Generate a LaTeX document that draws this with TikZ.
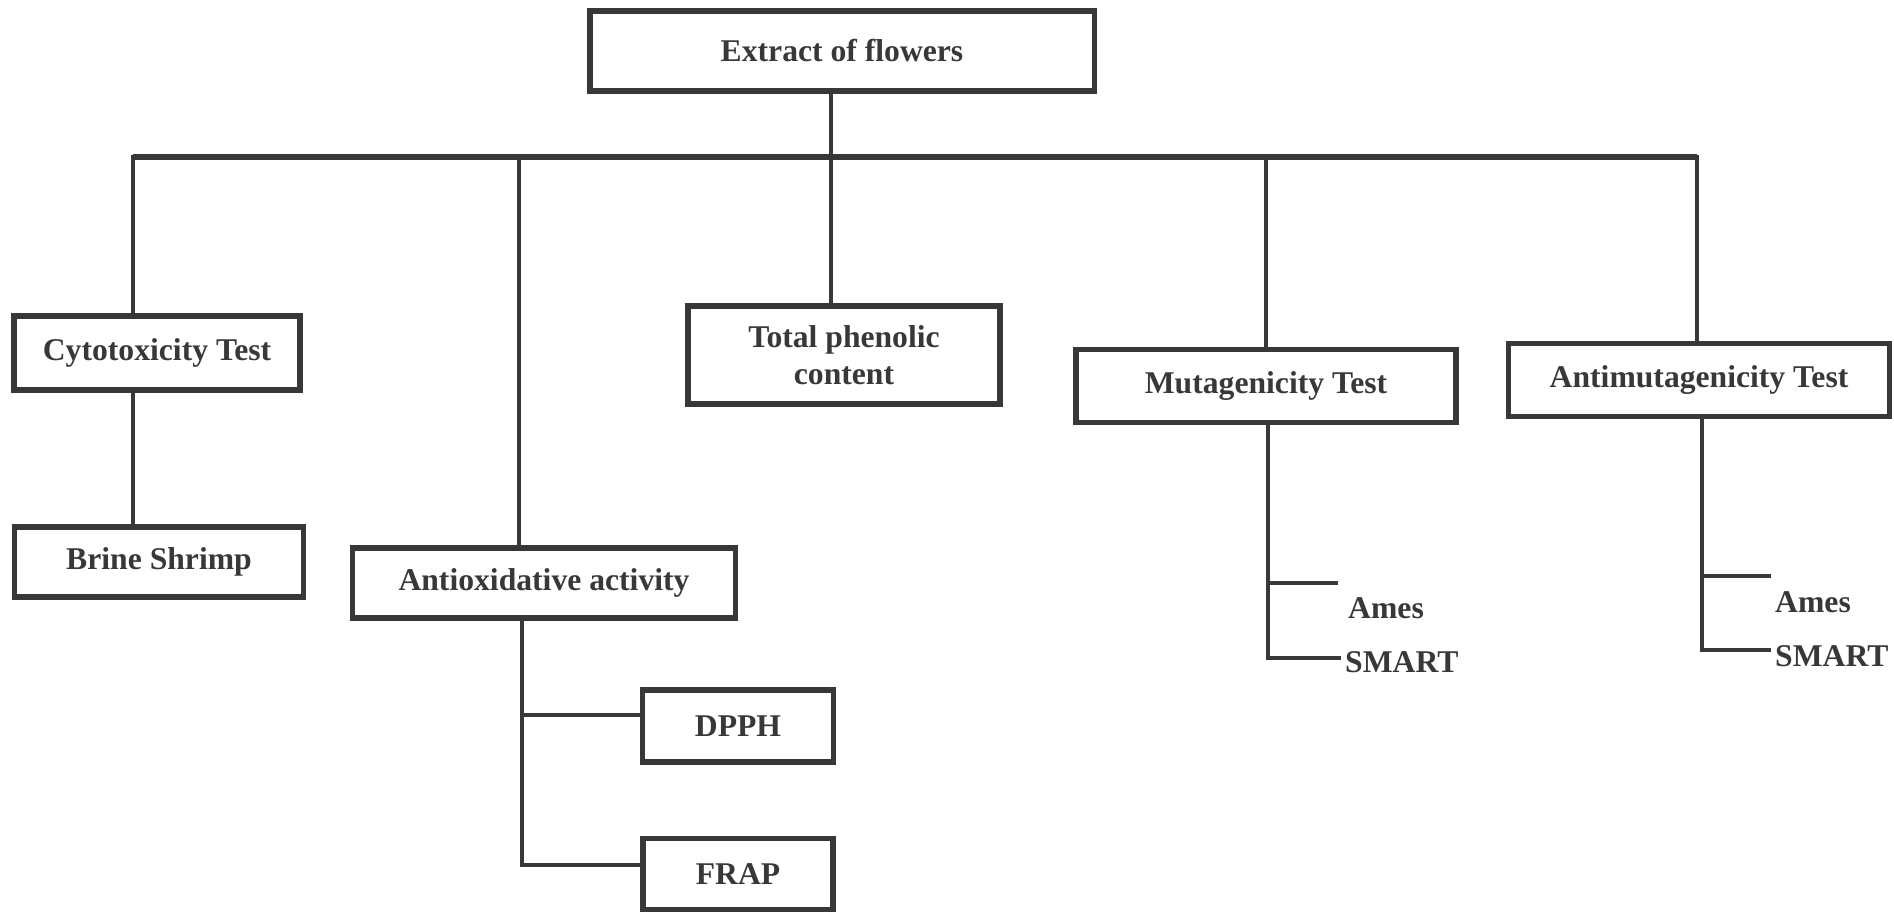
\documentclass[tikz,border=0pt]{standalone}
\usepackage{fontspec}
\setmainfont{Liberation Serif}
\usetikzlibrary{positioning}
\definecolor{inkgray}{HTML}{383838}
\begin{document}
\begin{tikzpicture}[
		x=0.01cm,y=-0.01cm,
		line join=miter,
		every node/.style={font=\fontsize{9}{10.6}\selectfont\bfseries,text=inkgray},
		box/.style={draw=inkgray,line width=1.5pt,align=center,inner sep=0pt},
		leaf/.style={inner sep=1pt,anchor=west},
		link/.style={draw=inkgray,line width=1.1pt}
		]
		\useasboundingbox (0,0) rectangle (1894,916);
		% boxes
		\node[box,minimum width=5.04cm,minimum height=0.80cm] (extract) at (842,51) {Extract of flowers};
		\node[box,minimum width=2.86cm,minimum height=0.74cm] (cyto) at (157,353) {Cytotoxicity Test};
		\node[box,minimum width=2.89cm,minimum height=0.70cm] (brine) at (159,562) {Brine Shrimp};
		\node[box,minimum width=3.12cm,minimum height=0.98cm] (phenolic) at (844,355) {Total phenolic\\content};
		\node[box,minimum width=3.80cm,minimum height=0.73cm] (mut) at (1266,386) {Mutagenicity Test};
		\node[box,minimum width=3.81cm,minimum height=0.73cm] (antimut) at (1699,380) {Antimutagenicity Test};
		\node[box,minimum width=3.83cm,minimum height=0.70cm] (antiox) at (544,583) {Antioxidative activity};
		\node[box,minimum width=1.91cm,minimum height=0.72cm] (dpph) at (738,726) {DPPH};
		\node[box,minimum width=1.90cm,minimum height=0.71cm] (frap) at (738,874) {FRAP};
		% assays without boxes
		\node[leaf] (amesA) at (1344,608) {Ames};
		\node[leaf] (smartA) at (1341,662) {SMART};
		\node[leaf] (amesB) at (1771,602) {Ames};
		\node[leaf] (smartB) at (1771,656) {SMART};
		% main bus
		\coordinate (busL) at (133,157);
		\coordinate (busR) at (1697,157);
		\draw[link] (extract.south -| 831,0) -- (831,157);
		\draw[link] (busL |- cyto.north) -- (busL) -- (busR) -- (busR |- antimut.north);
		\draw[draw=inkgray,line width=1.6pt] (busL) -- (busR);
		\draw[link] (519,157) -- (519,157 |- antiox.north);
		\draw[link] (831,157) -- (831,157 |- phenolic.north);
		\draw[link] (1266,157) -- (1266,157 |- mut.north);
		% cytotoxicity
		\draw[link] (cyto.south -| busL) -- (busL |- brine.north);
		% antioxidative
		\draw[link] (antiox.south -| 522,0) -- (522,865) -- (522,865 -| frap.west);
		\draw[link] (522,715) -- (522,715 -| dpph.west);
		% mutagenicity
		\coordinate (brA) at (1338,583);
		\draw[link] (mut.south -| 1268,0) -- (1268,658) -- (1268,658 -| smartA.west);
		\draw[link] (1268,583) -- (brA);
		% antimutagenicity
		\coordinate (brB) at (1771,576);
		\draw[link] (antimut.south -| 1702,0) -- (1702,650) -- (1702,650 -| smartB.west);
		\draw[link] (1702,576) -- (brB);
\end{tikzpicture}
\end{document}
